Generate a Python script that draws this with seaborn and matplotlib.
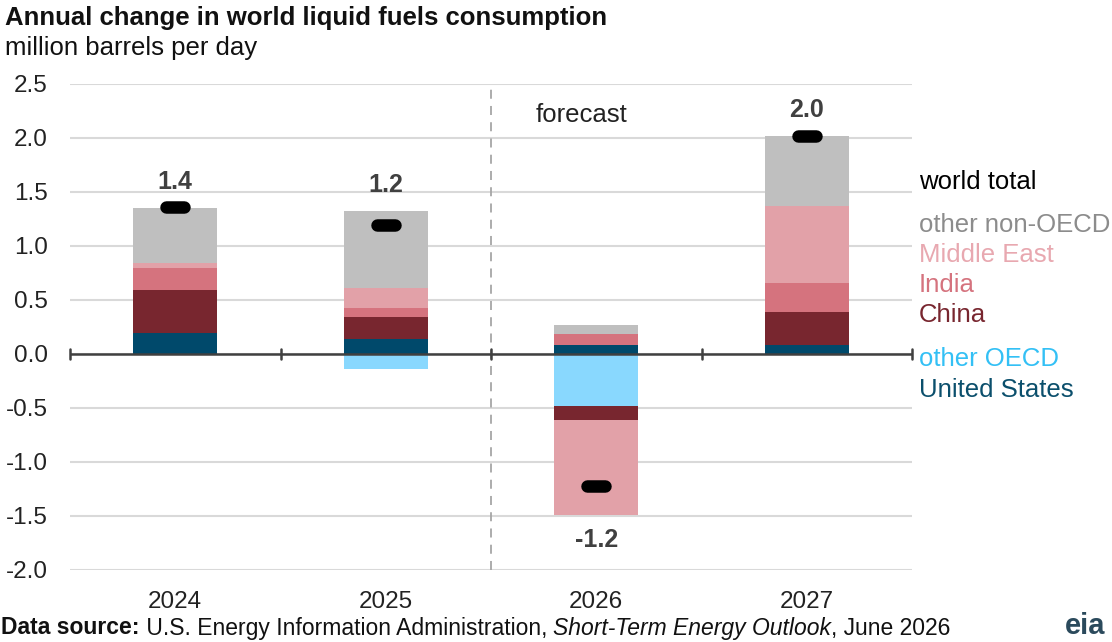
import matplotlib
matplotlib.use("Agg")
import matplotlib.pyplot as plt
from matplotlib.markers import MarkerStyle
import numpy as np
import pandas as pd
import seaborn as sns

years = ["2024", "2025", "2026", "2027"]
us = [0.19, 0.135, 0.083, 0.08]
other_oecd = [0.0, -0.14, -0.48, 0.0]
china = [0.40, 0.21, -0.135, 0.31]
india = [0.21, 0.08, 0.10, 0.27]
middle_east = [0.045, 0.19, -0.875, 0.71]
other_non_oecd = [0.505, 0.71, 0.09, 0.65]
world_total = [1.36, 1.19, -1.22, 2.02]
total_labels = ["1.4", "1.2", "-1.2", "2.0"]

series_names = ["United States", "other OECD", "China", "India", "Middle East", "other non-OECD"]
series_vals = [us, other_oecd, china, india, middle_east, other_non_oecd]
colors = ["#00496b", "#89d8fe", "#78262f", "#d5737e", "#e2a1a8", "#bfbfbf"]
text_colors = ["#0b4f6c", "#33c0f5", "#78262f", "#d5737e", "#e8a8b0", "#8c8c8c"]
yticks = [-2.0, -1.5, -1.0, -0.5, 0.0, 0.5, 1.0, 1.5, 2.0, 2.5]

sns.set_theme(style="white")
plt.rcParams["font.family"] = ["Liberation Sans", "DejaVu Sans"]

fig = plt.figure(figsize=(11.12, 6.42), dpi=100)
ax = fig.add_axes([70 / 1112, 1 - 570 / 642, 842 / 1112, 486 / 642])

pos_base = np.zeros(len(years))
neg_base = np.zeros(len(years))
for name, vals, col in zip(series_names, series_vals, colors):
    v = np.array(vals, dtype=float)
    bottoms = np.where(v >= 0, pos_base, neg_base)
    df = pd.DataFrame({"year": years, "val": v})
    sns.barplot(data=df, x="year", y="val", bottom=bottoms, color=col,
                width=0.4, ax=ax, saturation=1, linewidth=0, zorder=3)
    pos_base = pos_base + np.where(v >= 0, v, 0)
    neg_base = neg_base + np.where(v < 0, v, 0)

xs = np.arange(len(years))
mk = MarkerStyle("_", capstyle="round")
ax.plot(xs, world_total, linestyle="none", marker=mk, markersize=13,
        markeredgewidth=9, color="black", zorder=5)

for i, (t, lab) in enumerate(zip(world_total, total_labels)):
    if t >= 0:
        y = pos_base[i] + 0.13
        va = "bottom"
    else:
        y = neg_base[i] - 0.12
        va = "top"
    ax.text(i, y, lab, ha="center", va=va, fontsize=18, fontweight="bold",
            color="#404040", zorder=6)

ax.set_xlim(-0.5, 3.5)
ax.set_ylim(-2.0, 2.5)
ax.set_yticks(yticks)
ax.set_yticklabels([f"{t:.1f}" for t in yticks], fontsize=17.5, color="#222222")
ax.yaxis.grid(True, color="#d9d9d9", linewidth=1.5, zorder=0)
ax.set_axisbelow(True)
ax.tick_params(axis="y", length=0, pad=16)
ax.tick_params(axis="x", length=0, pad=15, labelsize=17.5, labelcolor="#222222")
ax.set_xlabel("")
ax.set_ylabel("")
for s in ax.spines.values():
    s.set_visible(False)

ax.axhline(0, color="#404040", linewidth=1.8, zorder=4)
for xb in [-0.5, 0.5, 1.5, 2.5, 3.5]:
    ax.plot([xb, xb], [-0.05, 0.05], color="#404040", linewidth=1.8, zorder=4,
            clip_on=False)
ax.axvline(1.5, color="#a6a6a6", linewidth=1.3, linestyle=(0, (5, 4)), zorder=2)
ax.text(1.71, 2.21, "forecast", fontsize=18.5, color="#222222", ha="left", va="center")

# right-side legend labels
lx = 3.533
legend_items = [("world total", "black", 1.59),
                ("other non-OECD", text_colors[5], 1.19),
                ("Middle East", text_colors[4], 0.92),
                ("India", text_colors[3], 0.64),
                ("China", text_colors[2], 0.36),
                ("other OECD", text_colors[1], -0.05),
                ("United States", text_colors[0], -0.33)]
for txt, c, y in legend_items:
    ax.text(lx, y, txt, color=c, fontsize=18.5, ha="left", va="center", clip_on=False)

fig.text(5 / 1112, 1 - 18 / 642, "Annual change in world liquid fuels consumption",
         fontsize=18.5, fontweight="bold", ha="left", va="center", color="#111111")
fig.text(5 / 1112, 1 - 48 / 642, "million barrels per day",
         fontsize=18.5, ha="left", va="center", color="#111111")

fs = 16.5
t1 = fig.text(1 / 1112, 1 - 628 / 642, "Data source:", fontsize=fs, fontweight="bold",
              ha="left", va="center", color="#111111")
t2 = ax.annotate(" U.S. Energy Information Administration, ", xy=(1, 0), xycoords=t1,
                 va="bottom", ha="left", fontsize=fs, color="#111111",
                 annotation_clip=False)
t3 = ax.annotate("Short-Term Energy Outlook", xy=(1, 0), xycoords=t2,
                 va="bottom", ha="left", fontsize=fs, style="italic", color="#111111",
                 annotation_clip=False)
t4 = ax.annotate(", June 2026", xy=(1, 0), xycoords=t3,
                 va="bottom", ha="left", fontsize=fs, color="#111111",
                 annotation_clip=False)
fig.text(1065 / 1112, 1 - 626 / 642, "eia", fontsize=21, fontweight="bold",
         ha="left", va="center", color="#2b4a5c")

fig.savefig("out.png", dpi=100)
